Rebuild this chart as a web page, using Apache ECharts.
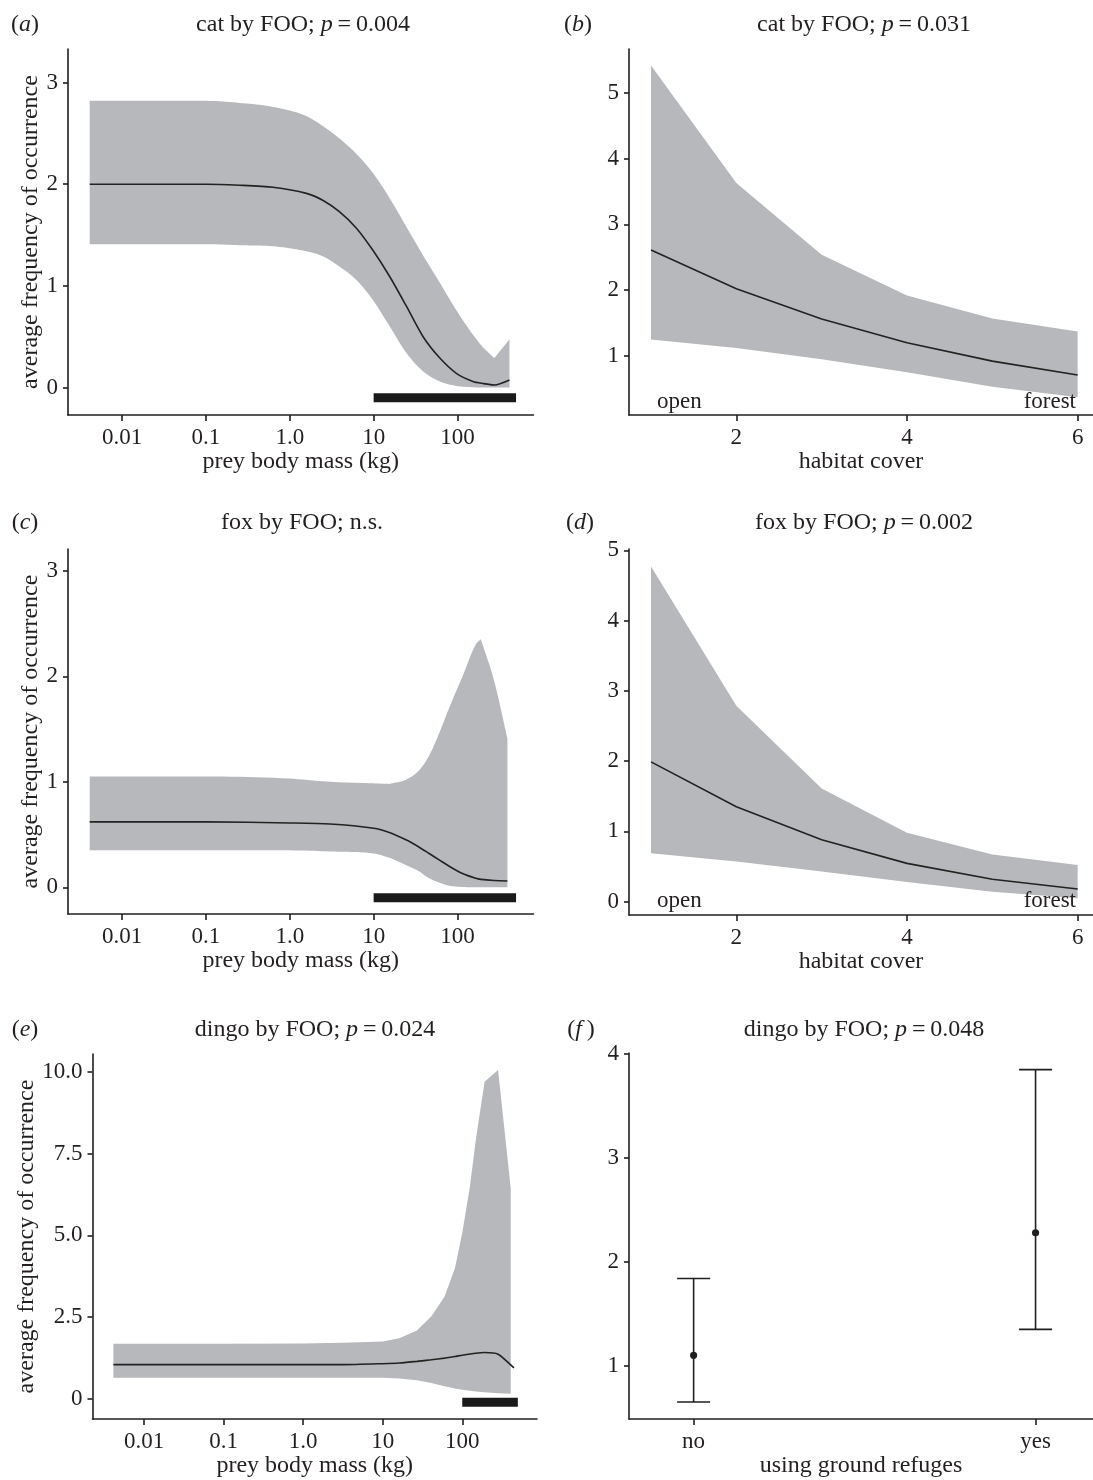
<!DOCTYPE html>
<html>
<head>
<meta charset="utf-8">
<script src="https://cdn.jsdelivr.net/npm/echarts@6/dist/echarts.min.js"></script>
<style>
html, body { margin: 0; padding: 0; background: #fff; }
#main { width: 1093px; height: 1480px; }
</style>
</head>
<body>
<div id="main"></div>
<script>
// ---- values ----
// tick labels
var massTicks = [0.01, 0.1, 1, 10, 100];
var massTickLabels = ['0.01', '0.1', '1.0', '10', '100'];
var coverTicks = [2, 4, 6];
var refugeCats = ['no', 'yes'];

// (a) cat, prey body mass (kg)
var catMass  = [0.0041, 0.01, 0.1, 0.25, 0.63, 1.58, 2.5, 3.9, 6.2, 9.8, 15.6, 24.6, 38.9, 61.6, 97, 153, 200, 275, 417];
var catMean  = [2.00, 2.00, 2.00, 1.99, 1.97, 1.91, 1.84, 1.73, 1.57, 1.35, 1.09, 0.80, 0.50, 0.29, 0.14, 0.06, 0.04, 0.025, 0.075];
var catUpper = [2.82, 2.82, 2.82, 2.80, 2.76, 2.67, 2.57, 2.45, 2.30, 2.11, 1.86, 1.58, 1.30, 1.03, 0.76, 0.52, 0.40, 0.29, 0.475];
var catLower = [1.41, 1.41, 1.41, 1.40, 1.39, 1.34, 1.29, 1.19, 1.06, 0.86, 0.60, 0.34, 0.16, 0.06, 0.016, 0.003, 0, 0, 0];

// (b) cat, habitat cover
var coverX      = [1, 2, 3, 4, 5, 6];
var catHabMean  = [2.61, 2.02, 1.56, 1.20, 0.92, 0.71];
var catHabUpper = [5.42, 3.63, 2.54, 1.92, 1.57, 1.37];
var catHabLower = [1.25, 1.12, 0.95, 0.75, 0.53, 0.37];

// (c) fox, prey body mass (kg)
var foxMass  = [0.0041, 0.01, 0.1, 1, 3, 10, 15.4, 24.3, 35, 46, 60.5, 79.5, 115, 165, 190, 273, 394];
var foxMean  = [0.62, 0.62, 0.62, 0.61, 0.60, 0.56, 0.52, 0.45, 0.38, 0.32, 0.26, 0.20, 0.13, 0.085, 0.075, 0.065, 0.06];
var foxUpper = [1.05, 1.05, 1.05, 1.03, 1.00, 0.985, 0.98, 1.02, 1.11, 1.25, 1.46, 1.70, 2.00, 2.30, 2.35, 1.96, 1.41];
var foxLower = [0.35, 0.35, 0.35, 0.35, 0.34, 0.32, 0.28, 0.21, 0.15, 0.085, 0.045, 0.015, 0.003, 0, 0, 0, 0];

// (d) fox, habitat cover
var foxHabMean  = [1.99, 1.35, 0.88, 0.545, 0.32, 0.18];
var foxHabUpper = [4.77, 2.79, 1.61, 0.98, 0.67, 0.52];
var foxHabLower = [0.69, 0.57, 0.43, 0.28, 0.14, 0.05];

// (e) dingo, prey body mass (kg)
var dingoMass  = [0.0041, 0.01, 0.1, 1, 3.2, 10, 16.2, 26.9, 40.7, 60, 81, 100, 125, 148, 191, 282, 407];
var dingoUpper = [1.69, 1.69, 1.69, 1.70, 1.72, 1.76, 1.86, 2.09, 2.52, 3.13, 4.00, 5.07, 6.50, 7.91, 9.69, 10.05, 6.44];
var dingoLower = [0.65, 0.65, 0.65, 0.65, 0.65, 0.65, 0.63, 0.57, 0.49, 0.39, 0.32, 0.28, 0.25, 0.23, 0.21, 0.18, 0.16];
var dingoLineMass = [0.0041, 0.01, 0.1, 1, 3.2, 10, 16.2, 26.9, 40.7, 60, 81, 100, 148, 191, 282, 447];
var dingoMean     = [1.05, 1.05, 1.05, 1.05, 1.05, 1.08, 1.10, 1.15, 1.20, 1.25, 1.30, 1.34, 1.40, 1.42, 1.37, 0.95];

// black bars under the mass panels (a, c, e): from / to (kg)
var barFrom = [10, 10, 100];
var barTo = [500, 500, 500];
var barLevel = -0.1;

// (f) dingo, ground refuges: mean and interval
var refugeMean = [1.10, 2.28];
var refugeLow  = [0.65, 1.35];
var refugeHigh = [1.84, 3.85];

// ---- styles ----
var FONT = '"Liberation Serif", "Times New Roman", serif';
var INK = '#231f20';
var BAND = '#b7b8bb';
var lg = function (v) { return Math.log10(v); };
var axisLineStyle = { color: INK, width: 1.6 };

var chart = echarts.init(document.getElementById('main'));

function pickLabel(ticks, labels) {
    return function (v) {
        for (var i = 0; i < ticks.length; i++) {
            if (Math.abs(ticks[i] - v) < 1e-6) return labels[i];
        }
        return '';
    };
}

function xAxisOf(gi, min, max, ticks, labels, name) {
    return {
        type: 'value', gridIndex: gi, min: min, max: max,
        axisLine: { show: true, onZero: false, lineStyle: axisLineStyle },
        axisTick: { show: true, length: 6, customValues: ticks, lineStyle: axisLineStyle },
        axisLabel: { customValues: ticks, formatter: pickLabel(ticks, labels), margin: 11,
            fontFamily: FONT, fontSize: 23, color: INK },
        splitLine: { show: false },
        name: name, nameLocation: 'middle', nameGap: 35,
        nameTextStyle: { fontFamily: FONT, fontSize: 24, color: INK }
    };
}

function yAxisOf(gi, min, max, ticks, labels, name, gap) {
    return {
        type: 'value', gridIndex: gi, min: min, max: max,
        axisLine: { show: true, onZero: false, lineStyle: axisLineStyle },
        axisTick: { show: true, length: 5, customValues: ticks, lineStyle: axisLineStyle },
        axisLabel: { customValues: ticks, formatter: pickLabel(ticks, labels), margin: 10,
            fontFamily: FONT, fontSize: 23, color: INK },
        splitLine: { show: false },
        name: name || '', nameLocation: 'middle', nameGap: gap || 0,
        nameTextStyle: { fontFamily: FONT, fontSize: 24, color: INK }
    };
}

// monotone cubic through pixel points (sharp corners kept at local peaks/dips)
function smoothEdge(pts) {
    var n = pts.length;
    if (n < 3) return pts.slice();
    var d = [], mL = [], mR = [], out = [pts[0]], i;
    for (i = 0; i < n - 1; i++) d[i] = (pts[i + 1][1] - pts[i][1]) / (pts[i + 1][0] - pts[i][0]);
    mL[0] = mR[0] = d[0];
    mL[n - 1] = mR[n - 1] = d[n - 2];
    for (i = 1; i < n - 1; i++) {
        if (d[i - 1] * d[i] < 0) { mL[i] = d[i - 1]; mR[i] = d[i]; }
        else if (d[i - 1] === 0 || d[i] === 0) { mL[i] = mR[i] = 0; }
        else { mL[i] = mR[i] = (d[i - 1] + d[i]) / 2; }
    }
    for (i = 0; i < n - 1; i++) {
        var m0 = mR[i], m1 = mL[i + 1];
        if (d[i] === 0) { m0 = 0; m1 = 0; }
        else {
            var a = m0 / d[i], b = m1 / d[i], s = a * a + b * b;
            if (s > 9) { var t = 3 / Math.sqrt(s); m0 = t * a * d[i]; m1 = t * b * d[i]; }
        }
        var x0 = pts[i][0], y0 = pts[i][1], x1 = pts[i + 1][0], y1 = pts[i + 1][1], h = x1 - x0;
        for (var k = 1; k <= 10; k++) {
            var u = k / 10, u2 = u * u, u3 = u2 * u;
            var y = (2 * u3 - 3 * u2 + 1) * y0 + (u3 - 2 * u2 + u) * h * m0 +
                (-2 * u3 + 3 * u2) * y1 + (u3 - u2) * h * m1;
            out.push([x0 + u * h, y]);
        }
    }
    return out;
}

function bandSeries(gi, xs, lo, hi, smooth) {
    return {
        type: 'custom', xAxisIndex: gi, yAxisIndex: gi, silent: true, z: 1,
        data: xs.map(function (x, i) { return [x, lo[i], hi[i]]; }),
        encode: { x: 0, y: [1, 2] },
        renderItem: function (params, api) {
            if (params.dataIndex !== 0) return null;
            var up = [], dn = [];
            for (var i = 0; i < xs.length; i++) {
                up.push(api.coord([xs[i], hi[i]]));
                dn.push(api.coord([xs[i], lo[i]]));
            }
            if (smooth) { up = smoothEdge(up); dn = smoothEdge(dn); }
            var pts = up.concat(dn.reverse());
            return { type: 'polygon', shape: { points: pts }, style: { fill: BAND } };
        }
    };
}

function meanSeries(gi, xs, ys, smooth) {
    return {
        type: 'line', xAxisIndex: gi, yAxisIndex: gi, z: 3, silent: true,
        data: xs.map(function (x, i) { return [x, ys[i]]; }),
        symbol: 'none', smooth: smooth,
        lineStyle: { color: '#222', width: 1.6 }
    };
}

function barSeries(gi, k) {
    return {
        type: 'line', xAxisIndex: gi, yAxisIndex: gi, z: 3, silent: true,
        data: [[lg(barFrom[k]), barLevel], [lg(barTo[k]), barLevel]],
        symbol: 'none',
        lineStyle: { color: '#1a1a1a', width: 9, cap: 'butt' }
    };
}

var massTickPos = massTicks.map(lg);
var coverLabels = coverTicks.map(String);

var series = [
    bandSeries(0, catMass.map(lg), catLower, catUpper, true),
    meanSeries(0, catMass.map(lg), catMean, 0.25),
    barSeries(0, 0),
    bandSeries(1, coverX, catHabLower, catHabUpper, false),
    meanSeries(1, coverX, catHabMean, false),
    bandSeries(2, foxMass.map(lg), foxLower, foxUpper, true),
    meanSeries(2, foxMass.map(lg), foxMean, 0.25),
    barSeries(2, 1),
    bandSeries(3, coverX, foxHabLower, foxHabUpper, false),
    meanSeries(3, coverX, foxHabMean, false),
    bandSeries(4, dingoMass.map(lg), dingoLower, dingoUpper, false),
    meanSeries(4, dingoLineMass.map(lg), dingoMean, 0.2),
    barSeries(4, 2),
    {
        type: 'custom', xAxisIndex: 5, yAxisIndex: 5, silent: true, z: 3,
        data: refugeMean.map(function (m, i) { return [i + 1, m, refugeLow[i], refugeHigh[i]]; }),
        encode: { x: 0, y: [1, 2, 3] },
        renderItem: function (params, api) {
            var x = api.value(0);
            var top = api.coord([x, api.value(3)]);
            var bot = api.coord([x, api.value(2)]);
            var mid = api.coord([x, api.value(1)]);
            var hw = 16.5;
            var st = { stroke: INK, lineWidth: 1.6 };
            return {
                type: 'group',
                children: [
                    { type: 'line', shape: { x1: top[0], y1: top[1], x2: bot[0], y2: bot[1] }, style: st },
                    { type: 'line', shape: { x1: top[0] - hw, y1: top[1], x2: top[0] + hw, y2: top[1] }, style: st },
                    { type: 'line', shape: { x1: bot[0] - hw, y1: bot[1], x2: bot[0] + hw, y2: bot[1] }, style: st },
                    { type: 'circle', shape: { cx: mid[0], cy: mid[1], r: 3.6 }, style: { fill: INK } }
                ]
            };
        }
    }
];

function richText(x, y, txt) {
    return {
        type: 'text', x: x, y: y, z: 10, silent: true,
        style: {
            text: txt, align: 'center', verticalAlign: 'middle',
            fontFamily: FONT, fontSize: 24, fill: INK,
            rich: {
                n: { fontFamily: FONT, fontSize: 24, fill: INK },
                i: { fontFamily: FONT, fontSize: 24, fontStyle: 'italic', fill: INK }
            }
        }
    };
}

function titleText(x, y, pre, p) {
    return richText(x, y, '{n|' + pre + '}' + (p ? '{i|p}{n|\u2009=\u2009' + p + '}' : ''));
}

function panelTag(x, y, letter) {
    return richText(x, y, '{n|(}{i|' + letter + '}{n|)}');
}

function note(x, y, text, align) {
    return {
        type: 'text', x: x, y: y, z: 10, silent: true,
        style: { text: text, align: align, verticalAlign: 'middle',
            fontFamily: FONT, fontSize: 23, fill: INK }
    };
}

var option = {
    backgroundColor: '#fff',
    animation: false,
    grid: [
        { left: 68, top: 49, width: 465.5, height: 366 },
        { left: 629, top: 49, width: 464, height: 366 },
        { left: 68, top: 549, width: 465.5, height: 365 },
        { left: 629, top: 549, width: 464, height: 366 },
        { left: 92.5, top: 1054, width: 444.5, height: 365 },
        { left: 629, top: 1053, width: 464, height: 366 }
    ],
    xAxis: [
        xAxisOf(0, -2.646, 2.907, massTickPos, massTickLabels, 'prey body mass (kg)'),
        xAxisOf(1, 0.742, 6.18, coverTicks, coverLabels, 'habitat cover'),
        xAxisOf(2, -2.646, 2.907, massTickPos, massTickLabels, 'prey body mass (kg)'),
        xAxisOf(3, 0.742, 6.18, coverTicks, coverLabels, 'habitat cover'),
        xAxisOf(4, -2.65, 2.94, massTickPos, massTickLabels, 'prey body mass (kg)'),
        xAxisOf(5, 0.811, 2.168, [1, 2], refugeCats, 'using ground refuges')
    ],
    yAxis: [
        yAxisOf(0, -0.27, 3.33, [0, 1, 2, 3], ['0', '1', '2', '3'], 'average frequency of occurrence', 25),
        yAxisOf(1, 0.10, 5.67, [1, 2, 3, 4, 5], ['1', '2', '3', '4', '5']),
        yAxisOf(2, -0.253, 3.206, [0, 1, 2, 3], ['0', '1', '2', '3'], 'average frequency of occurrence', 25),
        yAxisOf(3, -0.19, 5.02, [0, 1, 2, 3, 4, 5], ['0', '1', '2', '3', '4', '5']),
        yAxisOf(4, -0.61, 10.54, [0, 2.5, 5, 7.5, 10], ['0', '2.5', '5.0', '7.5', '10.0'], 'average frequency of occurrence', 51),
        yAxisOf(5, 0.487, 4.01, [1, 2, 3, 4], ['1', '2', '3', '4'])
    ],
    series: series,
    graphic: [
        panelTag(25, 25, 'a'), titleText(303, 25, 'cat by FOO; ', '0.004'),
        panelTag(578, 25, 'b'), titleText(864, 25, 'cat by FOO; ', '0.031'),
        panelTag(25, 523, 'c'), titleText(302, 523, 'fox by FOO; n.s.', null),
        panelTag(580, 523, 'd'), titleText(864, 523, 'fox by FOO; ', '0.002'),
        panelTag(25, 1030, 'e'), titleText(315, 1030, 'dingo by FOO; ', '0.024'),
        panelTag(581, 1030, 'f\u2009'), titleText(864, 1030, 'dingo by FOO; ', '0.048'),
        note(657, 402, 'open', 'left'), note(1076, 402, 'forest', 'right'),
        note(657, 901, 'open', 'left'), note(1076, 901, 'forest', 'right')
    ]
};

chart.setOption(option);
</script>
</body>
</html>
